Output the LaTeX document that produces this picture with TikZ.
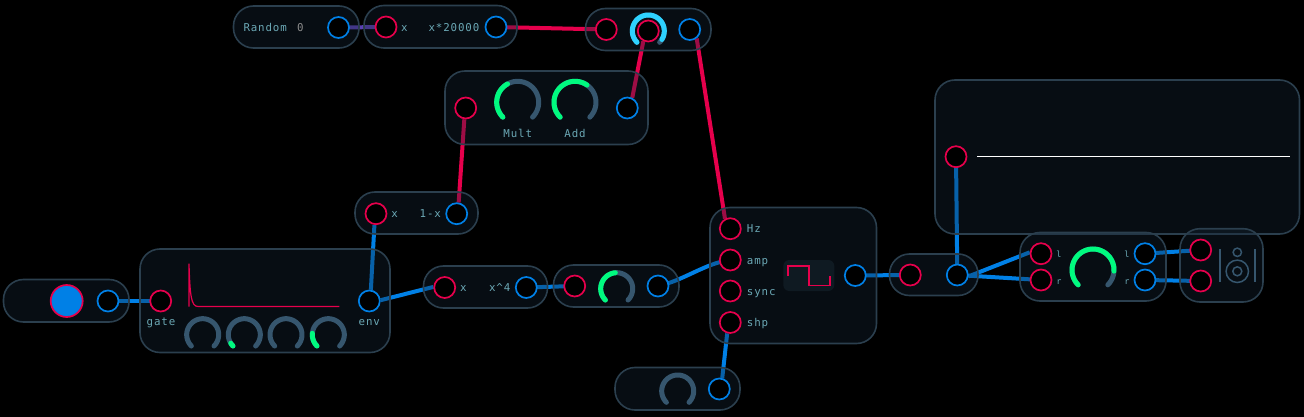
\documentclass[tikz,border=0pt]{standalone}
\usepackage{fontspec}
\setmonofont{DejaVu Sans Mono}
\newfontfamily\lab[LetterSpace=8]{DejaVu Sans Mono}
\pgfdeclarelayer{wires}
\pgfdeclarelayer{mods}
\pgfsetlayers{wires,mods,main}
\definecolor{pinkc}{HTML}{E6004C}
\definecolor{bluec}{HTML}{0080E6}
\definecolor{purpc}{HTML}{5A40B4}
\definecolor{edgec}{HTML}{2B3F4E}
\definecolor{fillc}{HTML}{162838}
\definecolor{trackc}{HTML}{36566E}
\definecolor{greenc}{HTML}{00FA7F}
\definecolor{cyanc}{HTML}{2ED2FF}
\definecolor{textc}{HTML}{6BA8B5}
\tikzset{
  x=1pt,y=-1pt,
  modbox/.style={draw=edgec,line width=1.6pt,fill=fillc,fill opacity=.35,draw opacity=1,inner sep=0pt,outer sep=0pt},
  inport/.style={circle,draw=pinkc,fill=black,line width=1.7pt,minimum size=21pt,inner sep=0pt},
  outport/.style={circle,draw=bluec,fill=black,line width=1.7pt,minimum size=21pt,inner sep=0pt},
  wire/.style={line width=4pt},
  pinkw/.style={wire,draw=pinkc},
  bluew/.style={wire,draw=bluec},
  purpw/.style={wire,draw=purpc},
  lbl/.style={font=\lab\fontsize{10.8}{12}\selectfont,text=textc,inner sep=0pt,text height=8pt,text depth=2pt},
  tinylbl/.style={font=\lab\fontsize{8.5}{10}\selectfont,text=textc,inner sep=0pt},
  arcline/.style={line cap=round,fill=none},
}
% \module{name}{x1}{y1}{x2}{y2}{radius}
\newcommand{\module}[6]{%
  \pgfmathsetmacro{\mw}{#4-#2}\pgfmathsetmacro{\mh}{#5-#3}%
  \pgfmathsetmacro{\mx}{(#2+#4)/2}\pgfmathsetmacro{\my}{(#3+#5)/2}%
  \node[modbox,rounded corners=#6pt,minimum width=\mw pt,minimum height=\mh pt] (#1) at (\mx,\my) {};}
% \knob{cx}{cy}{r}{lw}{valuecolor}{valueend angle}
\newcommand{\knob}[6]{%
  \draw[arcline,trackc,line width=#4pt] plot[domain=225:-45,samples=40] ({#1+#3*cos(\x)},{#2-#3*sin(\x)});
  \draw[arcline,#5,line width=#4pt] plot[domain=225:#6,samples=40] ({#1+#3*cos(\x)},{#2-#3*sin(\x)});}
\newcommand{\plainknob}[4]{%
  \draw[arcline,trackc,line width=#4pt] plot[domain=225:-45,samples=40] ({#1+#3*cos(\x)},{#2-#3*sin(\x)});}
\begin{document}
\begin{tikzpicture}
\begin{pgfonlayer}{wires}
\fill[black] (0,0) rectangle (1304,417);
\end{pgfonlayer}
\useasboundingbox (0,0) rectangle (1304,417);
\begin{pgfonlayer}{mods}
\module{mRandom}{233.5}{6}{359}{48}{20}
\module{mTimes}{364}{5.5}{517}{48}{20}
\module{mTop}{585.5}{8.5}{711}{50.5}{20}
\module{mMA}{445}{71}{648}{144.5}{20}
\module{mOneMinus}{355}{192}{478}{234}{20}
\module{mButton}{3.5}{279.5}{129}{322}{20}
\module{mEnv}{140}{249}{390}{352.5}{20}
\module{mPow}{423.5}{266}{547.5}{308}{20}
\module{mGain}{553.5}{265}{679}{307}{20}
\module{mOsc}{710}{207.5}{876.5}{343.5}{20}
\module{mShape}{615}{367.5}{740}{410}{20}
\module{mSplit}{889.5}{254}{978}{295.5}{20}
\module{mScope}{935}{80}{1299.5}{234}{20}
\module{mStereo}{1020}{232.5}{1166}{301}{20}
\module{mSpeaker}{1180}{228.7}{1263}{302}{20}
\end{pgfonlayer}

% knobs
\knob{648.3}{31}{16}{5}{cyanc}{-32}
\knob{517.7}{102.3}{21}{5}{greenc}{119}
\knob{575}{102.3}{21}{5}{greenc}{55}
\plainknob{202.7}{334.7}{16}{5}
\knob{244.3}{334.7}{16}{5}{greenc}{212}
\plainknob{286}{334.7}{16}{5}
\knob{328.3}{334.7}{16}{5}{greenc}{175}
\knob{616.7}{288.7}{16}{5}{greenc}{95}
\plainknob{677.7}{391}{16}{5}
\knob{1093}{270}{21}{5}{greenc}{-3}

% ports
\node[outport] (randOut) at (338.5,27.5) {};
\node[inport] (timesIn) at (386,27) {};
\node[outport] (timesOut) at (496,27) {};
\node[inport] (topIn) at (606.3,29.5) {};
\node[inport] (topMod) at (648.3,31) {};
\node[outport] (topOut) at (689.7,29.5) {};
\node[inport] (maIn) at (465.7,108) {};
\node[outport] (maOut) at (627.3,108) {};
\node[inport] (omIn) at (376,213.7) {};
\node[outport] (omOut) at (456.7,213.7) {};
\node[circle,draw=pinkc,fill=bluec,line width=1.7pt,minimum size=32pt,inner sep=0pt] (btn) at (66.7,301) {};
\node[outport] (btnOut) at (108,301) {};
\node[inport] (gate) at (160.7,301) {};
\node[outport] (env) at (369.3,301) {};
\node[inport] (powIn) at (444.7,287.5) {};
\node[outport] (powOut) at (526.3,287.5) {};
\node[inport] (gainIn) at (574.7,286) {};
\node[outport] (gainOut) at (658,286) {};
\node[inport] (hz) at (730.3,228.7) {};
\node[inport] (amp) at (730.3,260) {};
\node[inport] (sync) at (730.3,291) {};
\node[inport] (shp) at (730.3,322.5) {};
\node[outport] (oscOut) at (855.3,275.5) {};
\node[outport] (shapeOut) at (719.3,389) {};
\node[inport] (splitIn) at (910.3,275) {};
\node[outport] (splitOut) at (957.3,275) {};
\node[inport] (scopeIn) at (956,156.7) {};
\node[inport] (stL) at (1041,253.7) {};
\node[inport] (stR) at (1041,280) {};
\node[outport] (stOutL) at (1145,253.7) {};
\node[outport] (stOutR) at (1145,280) {};
\node[inport] (spL) at (1200.7,250) {};
\node[inport] (spR) at (1200.7,281) {};

% wires
\begin{pgfonlayer}{wires}
\draw[purpw] (randOut.center) -- (timesIn.center);
\draw[pinkw] (timesOut.center) -- (topIn.center);
\draw[pinkw] (maOut.64) -- (topMod.-116);
\draw[pinkw] (topOut.-52) -- (hz.118);
\draw[pinkw] (omOut.80) -- (maIn.-97);
\draw[bluew] (btnOut.center) -- (gate.center);
\draw[bluew] (env.82) -- (omIn.-98);
\draw[bluew] (env.4) -- (powIn.177);
\draw[bluew] (powOut.center) -- (gainIn.center);
\draw[bluew] (gainOut.center) .. controls +(25,-5) and +(-25,3) .. (amp.center);
\draw[bluew] (shapeOut.75) -- (shp.-106);
\draw[bluew] (oscOut.center) -- (splitIn.center);
\draw[bluew] (splitOut.center) -- (scopeIn.center);
\draw[bluew] (splitOut.-7) -- (stL.173);
\draw[bluew] (splitOut.center) -- (stR.center);
\draw[bluew] (stOutL.center) -- (spL.center);
\draw[bluew] (stOutR.center) -- (spR.center);
\end{pgfonlayer}

% envelope
\draw[pinkc,line width=1.2pt,line join=round] (189,306.7) -- (189,264) .. controls (190,295) and (191,306.5) .. (198,306.5) -- (339.3,306.5);
% waveform icon
\fill[rounded corners=6pt,color={rgb,255:red,15;green,26;blue,34}] (783.3,260) rectangle (834.3,291);
\draw[pinkc,line width=1.6pt] (787.7,276) -- (787.7,266) -- (809,266) -- (809,285.3) -- (830,285.3) -- (830,276);
% scope trace
\draw[white,line width=1.4pt] (977,156.7) -- (1289.7,156.7);
% speaker
\draw[trackc,line width=1.5pt] (1220,249.3) -- (1220,282);
\draw[trackc,line width=1.5pt] (1255,249.3) -- (1255,282);
\draw[trackc,line width=1.5pt] (1237.3,252.3) circle[radius=4.2];
\draw[trackc,line width=1.5pt] (1237.3,271.3) circle[radius=11.2];
\draw[trackc,line width=1.5pt] (1237.3,271.3) circle[radius=4.5];

% labels
\node[lbl,anchor=west] (tRandom) at (243.3,28.5) {Random};
\node[lbl,text={rgb,255:red,140;green,140;blue,140}] (tZero) at (300.3,28.5) {0};
\node[lbl] (tX1) at (404.3,28.5) {x};
\node[lbl,anchor=east] (tExpr1) at (479.5,28.5) {x*20000};
\node[lbl] (tMult) at (517.7,135) {Mult};
\node[lbl] (tAdd) at (575,135) {Add};
\node[lbl] (tX2) at (394.7,214.7) {x};
\node[lbl] (tExpr2) at (430.3,214.7) {1-x};
\node[lbl] (tGate) at (161,322) {gate};
\node[lbl] (tEnv) at (369.3,322) {env};
\node[lbl] (tX3) at (463.3,288) {x};
\node[lbl] (tExpr3) at (499.7,288) {x\^{}4};
\node[lbl,anchor=west] (tHz) at (746.7,229.7) {Hz};
\node[lbl,anchor=west] (tAmp) at (746.7,261) {amp};
\node[lbl,anchor=west] (tSync) at (746.7,292) {sync};
\node[lbl,anchor=west] (tShp) at (746.7,323.7) {shp};
\node[tinylbl] (tL1) at (1059,254.7) {l};
\node[tinylbl] (tR1) at (1059,281.7) {r};
\node[tinylbl] (tL2) at (1127,254.7) {l};
\node[tinylbl] (tR2) at (1127,281.7) {r};
\end{tikzpicture}
\end{document}
